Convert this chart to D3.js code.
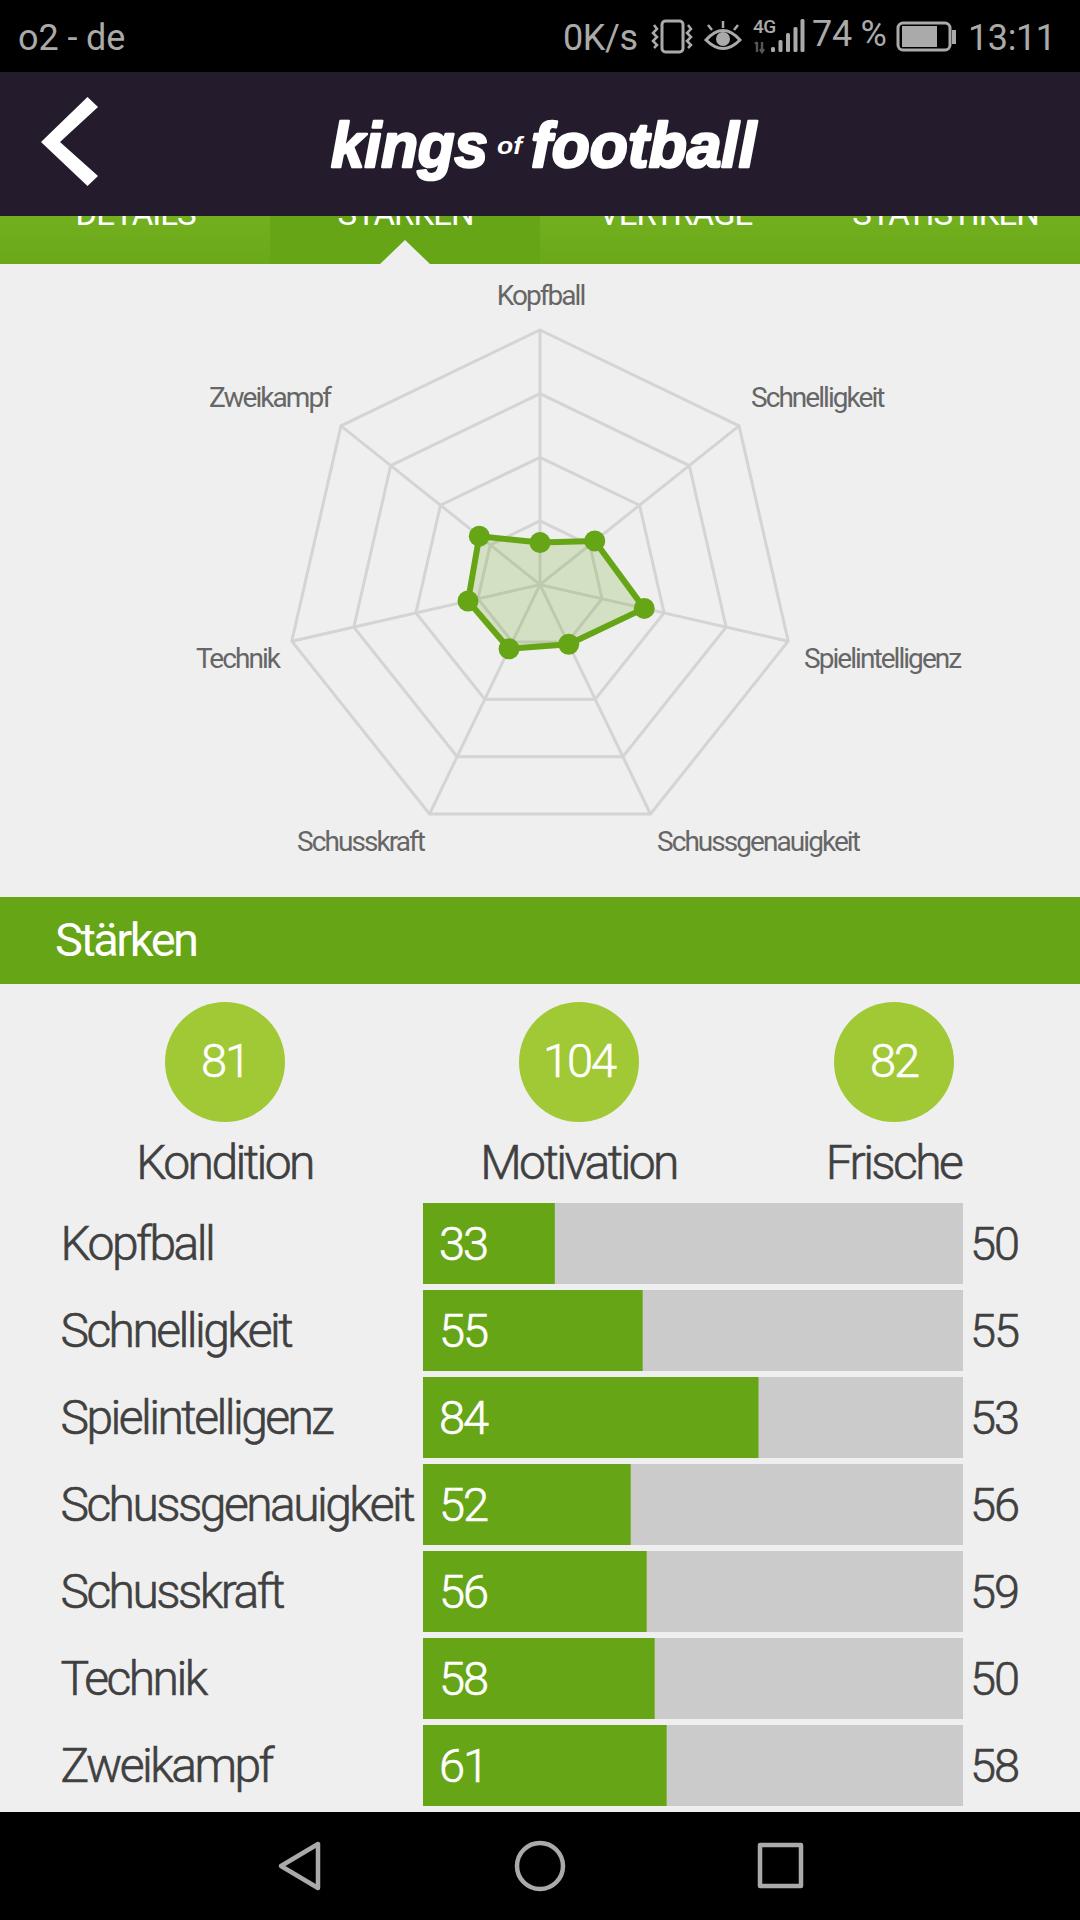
<!DOCTYPE html>
<html><head><meta charset="utf-8">
<script src="https://cdn.jsdelivr.net/npm/d3@7"></script>
<style>html,body{margin:0;padding:0;background:#efefef}svg{display:block}text{font-family:Roboto,sans-serif}</style>
</head><body>
<svg id="c" width="1080" height="1920"></svg>
<script>
const skills = ["Kopfball","Schnelligkeit","Spielintelligenz","Schussgenauigkeit","Schusskraft","Technik","Zweikampf"];
const values = [33,55,84,52,56,58,61];
const rightValues = [50,55,53,56,59,50,58];
const gridLevels = [50,100,150,200];
const radarLabelAnchor = ["middle","start","start","start","middle","end","end"];
const radarLabelX = [540.5,751,804,657,360.5,279,330];
const radarLabelY = [296,398,659,842,842,659,398];
const gauges = ["Kondition","Motivation","Frische"];
const gaugeValues = [81,104,82];
const tabs = ["DETAILS","STÄRKEN","VERTRÄGE","STATISTIKEN"];

const GREEN="#66a516", LIME="#a0c935", GREY="#aaaaaa", BG="#efefef", INK="#404040";
const svg=d3.select("#c");
svg.append("rect").attr("width",1080).attr("height",1920).attr("fill",BG);

// tabs
const tabX=d3.scaleBand().domain(tabs).range([0,1080]);
const tg=svg.append("g");
const defs=svg.append("defs");
const grad=defs.append("linearGradient").attr("id","tabg").attr("x1",0).attr("y1",0).attr("x2",0).attr("y2",1);
grad.append("stop").attr("offset",0).attr("stop-color","#72b01f");
grad.append("stop").attr("offset",1).attr("stop-color","#6aa81a");
tg.append("rect").attr("y",216).attr("width",1080).attr("height",48).attr("fill","url(#tabg)");
tg.append("rect").attr("x",tabX("STÄRKEN")).attr("y",216).attr("width",tabX.bandwidth()).attr("height",48).attr("fill",GREEN);
tg.selectAll("text").data(tabs).join("text")
 .attr("x",d=>tabX(d)+tabX.bandwidth()/2+0.5).attr("y",225).attr("text-anchor","middle")
 .attr("font-size",33).attr("fill","#fff").attr("letter-spacing",-1.0).text(d=>d);
tg.append("path").attr("d",d3.line()([[380,264],[405,240],[430,264]])).attr("fill",BG);

// status bar + header
svg.append("rect").attr("width",1080).attr("height",72).attr("fill","#000");
svg.append("rect").attr("y",72).attr("width",1080).attr("height",144).attr("fill","#241c2c");
const st=svg.append("g").attr("fill",GREY);
st.append("text").attr("x",18).attr("y",50).attr("font-size",36).attr("letter-spacing",-0.1).text("o2 - de");
st.append("text").attr("x",563).attr("y",50).attr("font-size",36).attr("letter-spacing",-0.4).text("0K/s");
st.append("text").attr("x",812).attr("y",46).attr("font-size",36).attr("letter-spacing",-0.3).text("74 %");
st.append("text").attr("x",968).attr("y",50).attr("font-size",36).attr("letter-spacing",-0.4).text("13:11");
const ic=svg.append("g").attr("fill","none").attr("stroke",GREY).attr("stroke-width",3);
ic.append("rect").attr("x",662).attr("y",21).attr("width",21).attr("height",31).attr("rx",3.5);
ic.append("path").attr("stroke-width",2.5).attr("d","M654 25l3 4l-4 4l4 4l-4 4l4 4l-3 3M688 25l3 4l-4 4l4 4l-4 4l4 4l-3 3");
ic.append("path").attr("d","M706 40Q723 21 740 40Q723 57 706 40Z");
ic.append("circle").attr("cx",723).attr("cy",39).attr("r",7).attr("fill",GREY).attr("stroke","none");
ic.append("path").attr("stroke-width",2.5).attr("d","M723 21v7M708 25l4 5M738 25l-4 5");
svg.append("text").attr("x",753).attr("y",33).attr("font-size",19).attr("font-weight",500).attr("letter-spacing",-0.6).attr("fill",GREY).text("4G");
svg.append("path").attr("d","M757 42v10M755 44l2-2M762 42v10M760 49l2 3l2-3").attr("stroke","#555").attr("stroke-width",2.4).attr("fill","none");
const bars=svg.append("g").attr("fill",GREY);
[[771,47],[778.5,40],[786,33],[793.5,27],[800.5,19]].forEach(([x,y])=>bars.append("rect").attr("x",x).attr("y",y).attr("width",4).attr("height",52-y).attr("rx",1.5));
ic.append("rect").attr("x",898).attr("y",23).attr("width",52).attr("height",27).attr("rx",5);
svg.append("rect").attr("x",902).attr("y",26).attr("width",35).attr("height",21).attr("fill",GREY);
svg.append("rect").attr("x",952).attr("y",30).attr("width",4).attr("height",14).attr("fill",GREY);
svg.append("path").attr("fill","#fff").attr("d",d3.line()([[87.5,97],[98,107],[60,142],[98,176],[87.5,186],[41,142]]));
const lg=svg.append("g").attr("fill","#fff").attr("stroke","#fff").attr("stroke-width",2.6).attr("stroke-linejoin","round").attr("font-weight",700).attr("font-style","italic");
const logoFont="'Liberation Sans'";
lg.append("text").attr("x",331).attr("y",167).attr("font-size",63).attr("textLength",157).attr("lengthAdjust","spacingAndGlyphs").style("font-family",logoFont).text("kings");
lg.append("text").attr("x",497).attr("y",154).attr("font-size",24).attr("stroke","none").attr("textLength",25).attr("lengthAdjust","spacingAndGlyphs").style("font-family",logoFont).text("of");
lg.append("text").attr("x",531).attr("y",167).attr("font-size",63).attr("textLength",225).attr("lengthAdjust","spacingAndGlyphs").style("font-family",logoFont).text("football");

// radar
const cx=540, cy=584.6;
const r=d3.scaleLinear().domain([0,200]).range([0,254.6]);
const ang=d3.scalePoint().domain(skills).range([0,2*Math.PI*6/7]);
const radial=d3.lineRadial().angle(d=>ang(d.k)).radius(d=>r(d.v)).curve(d3.curveLinearClosed);
const rad=svg.append("g").attr("transform",`translate(${cx},${cy})`);
rad.selectAll(".ring").data(gridLevels).join("path").attr("class","ring")
 .attr("d",l=>radial(skills.map(k=>({k,v:l})))).attr("fill","none").attr("stroke","#d4d4d4").attr("stroke-width",3);
rad.selectAll(".spoke").data(skills).join("path").attr("class","spoke")
 .attr("d",k=>d3.lineRadial().angle(ang(k)).radius(d=>r(d))([0,200])).attr("stroke","#d4d4d4").attr("stroke-width",3).attr("fill","none");
const pts=skills.map((k,i)=>({k,v:values[i]}));
rad.append("path").attr("d",radial(pts)).attr("fill",GREEN).attr("fill-opacity",0.2).attr("stroke",GREEN).attr("stroke-width",6).attr("stroke-linejoin","round");
rad.selectAll(".pt").data(pts).join("circle").attr("class","pt").attr("fill",GREEN).attr("r",10.5)
 .attr("cx",d=>r(d.v)*Math.sin(ang(d.k))).attr("cy",d=>-r(d.v)*Math.cos(ang(d.k)));
svg.append("g").selectAll("text").data(skills).join("text")
 .attr("x",(d,i)=>radarLabelX[i]).attr("y",(d,i)=>radarLabelY[i]+9).attr("text-anchor",(d,i)=>radarLabelAnchor[i])
 .attr("font-size",28).attr("font-weight",400).attr("letter-spacing",-1.95).attr("fill","#666").text(d=>d);

// section header
svg.append("rect").attr("y",897).attr("width",1080).attr("height",87).attr("fill",GREEN);
svg.append("text").attr("x",55).attr("y",956).attr("font-size",47).attr("font-weight",400).attr("letter-spacing",-2.5).attr("fill","#fff").text("Stärken");

// gauges
const soft=(sel,c)=>sel.attr("font-weight",300).attr("stroke",c).attr("stroke-width",0.6);
const gaugeX=d3.scaleOrdinal().domain(gauges).range([225,579,894]);
const g=svg.append("g");
g.selectAll("circle").data(gauges).join("circle").attr("cx",d=>gaugeX(d)).attr("cy",1062).attr("r",60).attr("fill",LIME);
g.selectAll(".gv").data(gauges).join("text").attr("class","gv").attr("x",d=>gaugeX(d)).attr("y",1077).attr("text-anchor","middle")
 .attr("font-size",47).attr("letter-spacing",-2).attr("fill","#fff").text((d,i)=>gaugeValues[i]).call(soft,"#fff");
g.selectAll(".gl").data(gauges).join("text").attr("class","gl").attr("x",d=>gaugeX(d)-0.5).attr("y",1179).attr("text-anchor","middle")
 .attr("font-size",48).attr("letter-spacing",-2.6).attr("fill",INK).text(d=>d).call(soft,INK);

// bars
const x=d3.scaleLinear().domain([0,135.2]).range([423,963]);
const y=d3.scaleBand().domain(skills).range([1203,1806]).paddingInner(6/87);
const rows=svg.append("g");
rows.selectAll(".bg").data(skills).join("rect").attr("class","bg").attr("x",x(0)).attr("y",d=>y(d)).attr("width",x(135.2)-x(0)).attr("height",y.bandwidth()).attr("fill","#cbcbcb");
rows.selectAll(".fg").data(pts).join("rect").attr("class","fg").attr("x",x(0)).attr("y",d=>y(d.k)).attr("width",d=>x(d.v)-x(0)).attr("height",y.bandwidth()).attr("fill",GREEN);
rows.selectAll(".nm").data(skills).join("text").attr("class","nm").attr("x",60.5).attr("y",d=>y(d)+57).attr("font-size",48).attr("letter-spacing",-2.55).attr("fill",INK).text(d=>d).call(soft,INK);
rows.selectAll(".val").data(pts).join("text").attr("class","val").attr("x",439).attr("y",d=>y(d.k)+57).attr("font-size",47).attr("letter-spacing",-2).attr("fill","#fff").text(d=>d.v).call(soft,"#fff");
rows.selectAll(".rv").data(rightValues).join("text").attr("class","rv").attr("x",970).attr("y",(d,i)=>y(skills[i])+57).attr("font-size",47).attr("letter-spacing",-2).attr("fill",INK).text(d=>d).call(soft,INK);

// nav bar
svg.append("rect").attr("y",1812).attr("width",1080).attr("height",108).attr("fill","#000");
const nav=svg.append("g").attr("fill","none").attr("stroke",GREY).attr("stroke-width",4.5).attr("stroke-linejoin","round");
nav.append("path").attr("d",d3.line().curve(d3.curveLinearClosed)([[318,1844],[318,1888],[281,1866]]));
nav.append("circle").attr("cx",540).attr("cy",1866).attr("r",23);
nav.append("rect").attr("x",760).attr("y",1845).attr("width",41).attr("height",41);
</script>
</body></html>
